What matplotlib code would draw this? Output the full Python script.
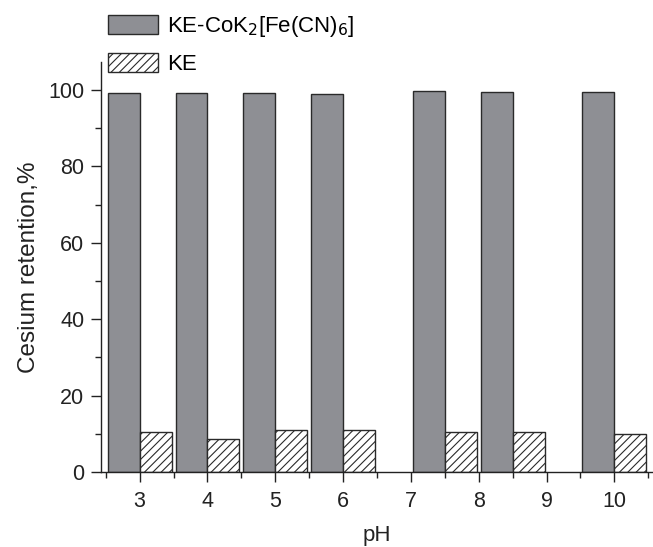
import numpy as np
import matplotlib
matplotlib.use('Agg')
import matplotlib.pyplot as plt
from matplotlib.ticker import MultipleLocator

# Data
ph_pos = [3, 4, 5, 6, 7.5, 8.5, 10]
tick_vals = [3, 4, 5, 6, 7, 8, 9, 10]
tick_labels = ['3', '4', '5', '6', '7', '8', '9', '10']
ke_cofe = [99.2, 99.2, 99.1, 99.0, 99.6, 99.4, 99.5]
ke = [10.5, 8.7, 11.1, 11.1, 10.5, 10.6, 9.9]

plt.rcParams['font.family'] = ['Liberation Sans', 'DejaVu Sans']
plt.rcParams['hatch.linewidth'] = 0.8
plt.rcParams['hatch.color'] = '#222222'

fig = plt.figure(figsize=(6.53, 5.47), dpi=100)
ax = fig.add_axes([0.1547, 0.1371, 0.8453, 0.7495])

w = 0.47
x = np.array(ph_pos)
b1 = ax.bar(x - w / 2, ke_cofe, width=w, color='#8e8f94', edgecolor='#2a2a2a',
            linewidth=1.0, label='KE-CoK$_2$[Fe(CN)$_6$]')
b2 = ax.bar(x + w / 2, ke, width=w, color='white', edgecolor='#2a2a2a',
            linewidth=1.0, hatch='////', label='KE')

ax.set_xlim(2.43, 10.57)
ax.set_ylim(0, 107.3)
ax.set_xticks(tick_vals)
ax.set_xticklabels(tick_labels)
ax.xaxis.set_minor_locator(MultipleLocator(0.5))
ax.yaxis.set_major_locator(MultipleLocator(20))
ax.yaxis.set_minor_locator(MultipleLocator(10))

for s in ['top', 'right']:
    ax.spines[s].set_visible(False)
for s in ['left', 'bottom']:
    ax.spines[s].set_linewidth(1.0)
    ax.spines[s].set_color('#222222')

ax.tick_params(axis='both', which='major', direction='out', length=7, width=1.0,
               labelsize=15.5, colors='#222222')
ax.tick_params(axis='both', which='minor', direction='out', length=4, width=1.0,
               colors='#222222')
ax.tick_params(axis='x', pad=7)
ax.tick_params(axis='y', pad=5)

ax.set_xlabel('pH', fontsize=16, labelpad=9, color='#222222')
ax.set_ylabel('Cesium retention,%', fontsize=17.5, labelpad=6, color='#222222')

fig.legend(handles=[b1, b2], loc='upper left', bbox_to_anchor=(0.1654, 1 - 14 / 547),
           frameon=False, fontsize=16, handlelength=2.25, handleheight=0.9,
           handletextpad=0.4, labelspacing=0.65, borderpad=0, borderaxespad=0)

fig.savefig('out.png', dpi=100)
